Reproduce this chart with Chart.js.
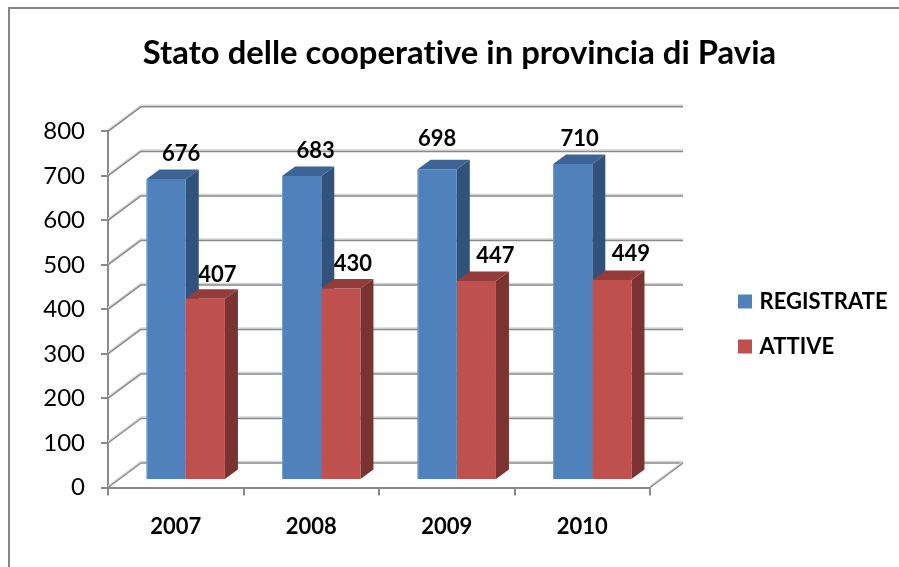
<!DOCTYPE html>
<html>
<head>
<meta charset="utf-8">
<title>Stato delle cooperative in provincia di Pavia</title>
<script src="https://cdn.jsdelivr.net/npm/chart.js@4/dist/chart.umd.min.js"></script>
<style>
    html, body { margin: 0; padding: 0; background: #fff; overflow: hidden; }
    #wrap { position: relative; width: 899px; height: 567px; }
</style>
</head>
<body>
<div id="wrap"><canvas id="coopChart"></canvas></div>
<script>
const years = ['2007', '2008', '2009', '2010'];
const registrate = [676, 683, 698, 710];
const attive = [407, 430, 447, 449];
const yTicksMax = 800;
const yTicksStep = 100;

// Hand-placed value labels: offset from the middle of each bar's top edge
const labelNudge = [
    [[15, -25], [14, -25], [0, -30], [7, -25]],
    [[12, -24], [12, -25], [19, -25], [19, -26]]
];

const FONT = 'Lato, Carlito, Calibri, sans-serif';
const LINE_GREY = '#8a8a8a';
const SOFT_GREY = '#d6d6d6';

// Box depth: back wall sits this far from the axis plane, bars sit part way in
const WALL = { dx: 33, dy: -24.5 };
const BAR_PLANE = { dx: 10, dy: -7.5 };
const BAR_DEPTH = { dx: 13, dy: -9.5 };

const faceColors = [
    { side: '#31527b', top: '#3c6394', edge: '#79a0d0' },
    { side: '#7a3331', top: '#943c3a', edge: null }
];

function softLine(ctx, x1, y1, x2, y2) {
    ctx.lineWidth = 1.5;
    ctx.strokeStyle = SOFT_GREY;
    ctx.beginPath();
    ctx.moveTo(x1, y1 - 1.5);
    ctx.lineTo(x2, y2 - 1.5);
    ctx.stroke();
    ctx.strokeStyle = LINE_GREY;
    ctx.beginPath();
    ctx.moveTo(x1, y1);
    ctx.lineTo(x2, y2);
    ctx.stroke();
}

function fillPoly(ctx, color, pts) {
    ctx.fillStyle = color;
    ctx.beginPath();
    pts.forEach((p, i) => i ? ctx.lineTo(p[0], p[1]) : ctx.moveTo(p[0], p[1]));
    ctx.closePath();
    ctx.fill();
}

// Outer frame, only the top and left edges fall inside the canvas
const framePlugin = {
    id: 'frame',
    beforeDraw(chart) {
        const ctx = chart.ctx;
        // a tiny spacing keeps "ti" from turning into a ligature
        ctx.letterSpacing = '0.01px';
        ctx.save();
        ctx.strokeStyle = '#868686';
        ctx.lineWidth = 2;
        ctx.beginPath();
        ctx.moveTo(9, chart.height);
        ctx.lineTo(9, 8);
        ctx.lineTo(chart.width, 8);
        ctx.stroke();
        ctx.restore();
    }
};

// Back wall, left wall and floor of the 3D box
const wallsPlugin = {
    id: 'walls',
    beforeDatasetsDraw(chart) {
        const ctx = chart.ctx;
        const yScale = chart.scales.y;
        const left = chart.chartArea.left;
        const right = chart.chartArea.right;
        ctx.save();
        for (let v = 0; v <= yTicksMax; v += yTicksStep) {
            const y = yScale.getPixelForValue(v);
            softLine(ctx, left, y, left + WALL.dx, y + WALL.dy);
            softLine(ctx, left + WALL.dx, y + WALL.dy, right + WALL.dx, y + WALL.dy);
        }
        const base = yScale.getPixelForValue(0);
        softLine(ctx, right, base, right + WALL.dx, base + WALL.dy);
        ctx.restore();
    }
};

// Moves the bars back from the axis plane and adds their side and top faces
const barDepthPlugin = {
    id: 'barDepth',
    beforeDatasetsDraw(chart) {
        const ctx = chart.ctx;
        ctx.save();
        ctx.translate(BAR_PLANE.dx, BAR_PLANE.dy);
        chart.data.datasets.forEach((ds, i) => {
            chart.getDatasetMeta(i).data.forEach(bar => {
                const { x, y, base, width } = bar.getProps(['x', 'y', 'base', 'width'], true);
                const l = x - width / 2;
                const r = x + width / 2;
                const dx = BAR_DEPTH.dx;
                const dy = BAR_DEPTH.dy;
                fillPoly(ctx, faceColors[i].side, [[r, y], [r + dx, y + dy], [r + dx, base + dy], [r, base]]);
                fillPoly(ctx, faceColors[i].top, [[l, y], [l + dx, y + dy], [r + dx, y + dy], [r, y]]);
            });
        });
    },
    afterDatasetsDraw(chart) {
        const ctx = chart.ctx;
        // lighter left edge on the front of the bars
        chart.data.datasets.forEach((ds, i) => {
            if (!faceColors[i].edge) return;
            chart.getDatasetMeta(i).data.forEach(bar => {
                const { x, y, base, width } = bar.getProps(['x', 'y', 'base', 'width'], true);
                ctx.fillStyle = faceColors[i].edge;
                ctx.fillRect(x - width / 2, y, 1, base - y);
            });
        });
        ctx.restore();
    }
};

// Value labels above the bars
const valueLabelsPlugin = {
    id: 'valueLabels',
    afterDraw(chart) {
        const ctx = chart.ctx;
        ctx.save();
        ctx.font = 'bold 22px ' + FONT;
        ctx.fillStyle = '#000';
        ctx.textAlign = 'center';
        ctx.textBaseline = 'middle';
        chart.data.datasets.forEach((ds, i) => {
            chart.getDatasetMeta(i).data.forEach((bar, j) => {
                const p = bar.getProps(['x', 'y'], true);
                const n = labelNudge[i][j];
                ctx.fillText(ds.data[j], p.x + BAR_PLANE.dx + n[0], p.y + BAR_PLANE.dy + n[1]);
            });
        });
        ctx.restore();
    }
};

// Title and legend keep their layout slots, this only slides them into place
const placementPlugin = {
    id: 'placement',
    beforeDraw(chart) {
        const title = chart.titleBlock;
        title.left = 20;
        title.right = chart.width;
        const legend = chart.legend;
        const w = legend.right - legend.left;
        legend.left = 718.5;
        legend.right = legend.left + w;
        const h = legend.bottom - legend.top;
        legend.top = 324 - h / 2;
        legend.bottom = legend.top + h;
    }
};

new Chart(document.getElementById('coopChart'), {
    type: 'bar',
    data: {
        labels: years,
        datasets: [
            { label: 'REGISTRATE', data: registrate, backgroundColor: '#4f81bd', borderColor: '#4f81bd' },
            { label: 'ATTIVE', data: attive, backgroundColor: '#c0504d', borderColor: '#c0504d' }
        ]
    },
    options: {
        responsive: true,
        maintainAspectRatio: false,
        animation: false,
        layout: { padding: { left: 20, right: 70, top: 0, bottom: 0 } },
        datasets: { bar: { barPercentage: 1, categoryPercentage: 0.578, clip: false } },
        scales: {
            x: {
                grid: { drawOnChartArea: false, drawTicks: true, tickLength: 8, color: LINE_GREY, lineWidth: 2 },
                border: { color: LINE_GREY, width: 2 },
                ticks: { color: '#000', font: { family: FONT, size: 22, weight: 'bold' }, padding: 18, maxRotation: 0 },
                afterFit(scale) { scale.height = 79.5; }
            },
            y: {
                min: 0,
                max: yTicksMax,
                grid: { drawOnChartArea: false, drawTicks: true, tickLength: 7, color: LINE_GREY, lineWidth: 2 },
                border: { color: LINE_GREY, width: 2 },
                ticks: { stepSize: yTicksStep, color: '#000', font: { family: FONT, size: 24 }, padding: 16 },
                afterFit(scale) { scale.width = 88; }
            }
        },
        plugins: {
            title: {
                display: true,
                text: 'Stato delle cooperative in provincia di Pavia',
                color: '#000',
                font: { family: FONT, size: 32.8, weight: 'bold' },
                padding: { top: 34, bottom: 58 }
            },
            legend: {
                position: 'right',
                labels: {
                    color: '#000',
                    font: { family: FONT, size: 22, weight: 'bold' },
                    boxWidth: 7,
                    boxHeight: 7,
                    padding: 23,
                    generateLabels(chart) {
                        const items = Chart.defaults.plugins.legend.labels.generateLabels(chart);
                        items.forEach(item => { item.lineWidth = 7; });
                        return items;
                    }
                }
            },
            tooltip: { enabled: false }
        }
    },
    plugins: [framePlugin, wallsPlugin, barDepthPlugin, valueLabelsPlugin, placementPlugin]
});
</script>
</body>
</html>
